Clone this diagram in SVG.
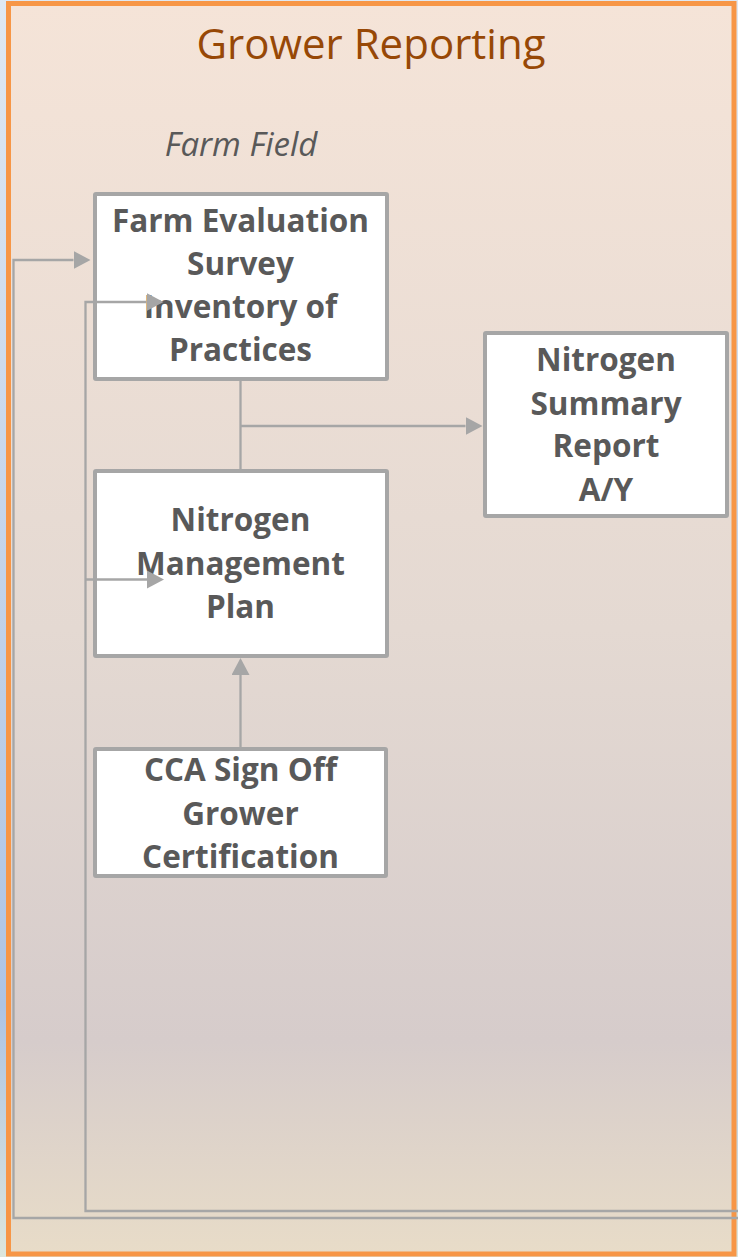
<svg xmlns="http://www.w3.org/2000/svg" width="738" height="1257" viewBox="0 0 738 1257">
  <defs>
    <linearGradient id="edge" x1="0" y1="0" x2="0" y2="1">
      <stop offset="0" stop-color="#dfe8f2"/>
      <stop offset="0.8" stop-color="#aec4e4"/>
      <stop offset="1" stop-color="#dde6dc"/>
    </linearGradient>
    <linearGradient id="panel" x1="0" y1="0" x2="0" y2="1">
      <stop offset="0" stop-color="#f5e4d8"/>
      <stop offset="0.5" stop-color="#e4d9d2"/>
      <stop offset="0.83" stop-color="#d6cccb"/>
      <stop offset="1" stop-color="#e8dcc8"/>
    </linearGradient>
    <marker id="arrow" markerUnits="userSpaceOnUse" markerWidth="18" markerHeight="18" refX="0" refY="9" orient="auto">
      <path d="M0,0 L17,9 L0,18 Z" fill="#a6a6a6"/>
    </marker>
    <style>
      .box { fill: #ffffff; stroke: #a6a6a6; stroke-width: 4; }
      .label { font-family: "Open Sans", "Liberation Sans", sans-serif; font-weight: bold; font-size: 31.5px; fill: #595959; text-anchor: middle; }
      .conn { fill: none; stroke: #a6a6a6; stroke-width: 2.3; }
    </style>
  </defs>

  <!-- page edge and container panel -->
  <rect x="0" y="0" width="738" height="1257" fill="url(#edge)"/>
  <rect id="panel-bg" x="8.5" y="3.5" width="725.5" height="1250.5" fill="url(#panel)" stroke="#f79646" stroke-width="5"/>

  <g id="title">
    <text x="371" y="59" font-family="'Open Sans', 'Liberation Sans', sans-serif" font-size="42" fill="#974806" text-anchor="middle">Grower Reporting</text>
  </g>
  <g id="subtitle">
    <text x="241" y="156" font-family="'Open Sans', 'Liberation Sans', sans-serif" font-style="italic" font-size="33" fill="#595959" text-anchor="middle">Farm Field</text>
  </g>

  <g id="farm-evaluation">
    <rect class="box" x="95" y="194" width="292" height="185" rx="1"/>
    <text class="label" x="240.5" y="231.5">Farm Evaluation</text>
    <text class="label" x="240.5" y="274.5">Survey</text>
    <text class="label" x="240.5" y="317.5">Inventory of</text>
    <text class="label" x="240.5" y="361">Practices</text>
  </g>

  <g id="nitrogen-plan">
    <rect class="box" x="95" y="471" width="292" height="185" rx="1"/>
    <text class="label" x="240.5" y="531">Nitrogen</text>
    <text class="label" x="240.5" y="574.5">Management</text>
    <text class="label" x="240.5" y="618">Plan</text>
  </g>

  <g id="nitrogen-summary">
    <rect class="box" x="485" y="333" width="242" height="183" rx="1"/>
    <text class="label" x="606" y="371">Nitrogen</text>
    <text class="label" x="606" y="414.5">Summary</text>
    <text class="label" x="606" y="457">Report</text>
    <text class="label" x="606" y="500.5">A/Y</text>
  </g>

  <g id="cca-signoff">
    <rect class="box" x="95" y="749" width="291" height="127" rx="1"/>
    <text class="label" x="240.5" y="781">CCA Sign Off</text>
    <text class="label" x="240.5" y="824.5">Grower</text>
    <text class="label" x="240.5" y="868">Certification</text>
  </g>

  <g id="connectors">
    <!-- survey / plan link and branch to summary report -->
    <path class="conn" d="M240.5,380 V469"/>
    <path class="conn" d="M240.5,426 H465.5" marker-end="url(#arrow)"/>
    <!-- sign-off feeds the plan -->
    <path class="conn" d="M240.5,748 V675" marker-end="url(#arrow)"/>
    <!-- outer return loop -->
    <path class="conn" d="M738,1218 H13.5 V260 H73.5" marker-end="url(#arrow)"/>
    <!-- inner return loop with branch into the plan -->
    <path class="conn" d="M738,1211 H85.5 V302 H146.5" marker-end="url(#arrow)"/>
    <path class="conn" d="M85.5,579.5 H147" marker-end="url(#arrow)"/>
  </g>
</svg>
